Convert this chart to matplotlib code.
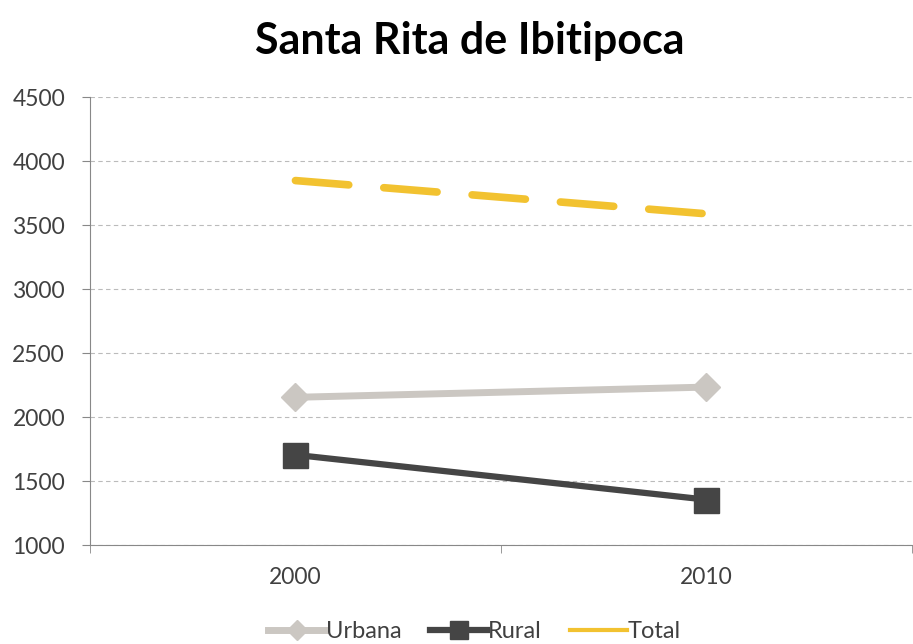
import matplotlib.pyplot as plt

# dados
anos = ["2000", "2010"]
urbana = [2155, 2235]
rural = [1705, 1355]
total = [3850, 3590]

plt.rcParams['font.family'] = ['Lato', 'DejaVu Sans']

fig = plt.figure(figsize=(9.13, 6.44), dpi=100)
ax = fig.add_axes([0.0986, 0.1537, 0.9, 0.695])

x = range(len(anos))
ax.plot(x, urbana, color="#CBC7C2", lw=5, marker="D", ms=14, label="Urbana", zorder=3)
ax.plot(x, rural, color="#454545", lw=4.5, marker="s", ms=18, label="Rural", zorder=3)
ax.plot(x, total, color="#F2C230", lw=5.5, dashes=(7, 4.6), dash_capstyle="round",
        label="Total", zorder=3)

ax.set_xlim(-0.5, 1.5)
ax.set_ylim(1000, 4500)
ax.set_yticks(range(1000, 4501, 500))
ax.set_xticks(list(x))
ax.set_xticklabels(anos)
ax.set_xticks([-0.5, 0.5, 1.5], minor=True)
ax.tick_params(axis="x", which="major", length=0, pad=16, labelsize=16.5, colors="#404040")
ax.tick_params(axis="x", which="minor", length=6, color="#888888")
ax.tick_params(axis="y", length=6, color="#888888", labelsize=16.5, labelcolor="#404040", pad=12)

ax.grid(axis="y", ls=(0, (4, 3)), color="#BBBBBB", lw=0.8)
ax.set_axisbelow(True)
for s in ["top", "right"]:
    ax.spines[s].set_visible(False)
for s in ["left", "bottom"]:
    ax.spines[s].set_color("#888888")

fig.suptitle("Santa Rita de Ibitipoca", fontsize=31, fontweight="bold", y=0.967, x=0.515)
leg = fig.legend(loc="lower center", ncol=3, frameon=False, fontsize=17,
                 bbox_to_anchor=(0.52, -0.03), handlelength=2.4, handletextpad=0.05,
                 columnspacing=1.2, markerscale=0.75)
for t in leg.get_texts():
    t.set_color("#404040")
h_total = leg.legend_handles[2]
h_total.set_linestyle("-")
h_total.set_linewidth(3)

fig.savefig("out.png", dpi=100)
